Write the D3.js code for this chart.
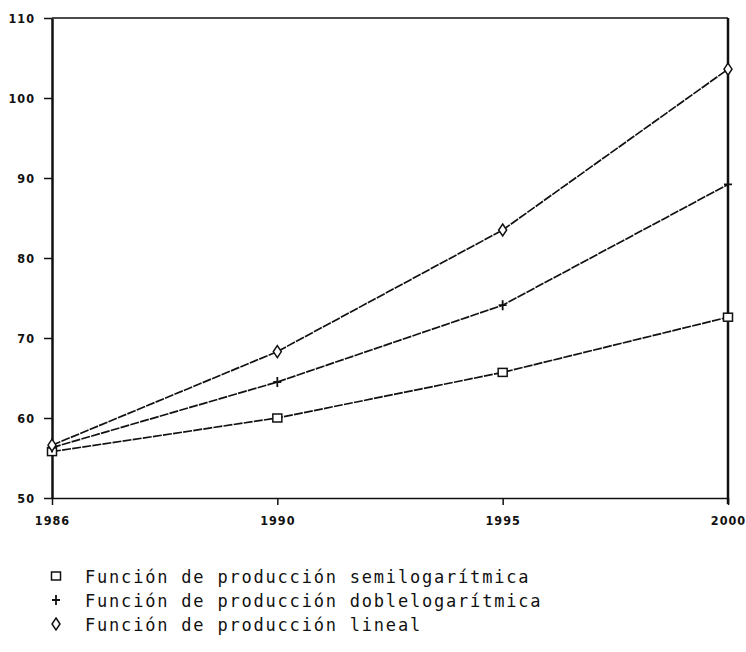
<!DOCTYPE html>
<html><head><meta charset="utf-8">
<script src="https://cdn.jsdelivr.net/npm/d3@7"></script>
<style>body{margin:0;background:#fff}svg{display:block}</style>
</head><body>
<script>
const years = ["1986", "1990", "1995", "2000"];
const yTicks = [50, 60, 70, 80, 90, 100, 110];
const semilog = [55.8, 60.0, 65.7, 72.6];
const doblelog = [56.3, 64.5, 74.1, 89.2];
const lineal = [56.6, 68.3, 83.5, 103.6];
const seriesNames = ["Función de producción semilogarítmica", "Función de producción doblelogarítmica", "Función de producción lineal"];
const seriesMarkers = ["square", "plus", "diamond"];

const W = 746, H = 652;
const m = {l: 52, r: 18, t: 18, b: 154};
const svg = d3.select("body").append("svg").attr("width", W).attr("height", H);

const x = d3.scalePoint().domain(years).range([m.l, W - m.r]);
const y = d3.scaleLinear().domain([50, 110]).range([H - m.b, m.t]);

const ink = "#111";
// frame
svg.append("line").attr("x1", m.l).attr("x2", W - m.r).attr("y1", m.t).attr("y2", m.t).attr("stroke", ink).attr("stroke-width", 1.5);
svg.append("line").attr("x1", W - m.r).attr("x2", W - m.r).attr("y1", m.t).attr("y2", H - m.b + 6).attr("stroke", ink).attr("stroke-width", 2.5);

const yAxis = svg.append("g").attr("transform", `translate(${m.l},0)`)
  .call(d3.axisLeft(y).tickValues(yTicks).tickSize(8).tickSizeOuter(0).tickPadding(9));
yAxis.select(".domain").attr("stroke", ink).attr("stroke-width", 2.5);
yAxis.selectAll(".tick line").attr("stroke", ink).attr("stroke-width", 1.5);
yAxis.selectAll("text").attr("fill", ink).style("font-family", "'DejaVu Sans Condensed','DejaVu Sans',sans-serif")
  .style("font-weight", "bold").style("font-size", "12.5px").style("letter-spacing", "1px");

const xAxis = svg.append("g").attr("transform", `translate(0,${H - m.b})`)
  .call(d3.axisBottom(x).tickSize(7).tickSizeOuter(0).tickPadding(11));
xAxis.select(".domain").attr("stroke", ink).attr("stroke-width", 1.5);
xAxis.selectAll(".tick line").attr("stroke", ink).attr("stroke-width", 1.5);
xAxis.selectAll("text").attr("fill", ink).style("font-family", "'DejaVu Sans Condensed','DejaVu Sans',sans-serif")
  .style("font-weight", "bold").style("font-size", "12.5px").style("letter-spacing", "1px");

const series = [semilog, doblelog, lineal];
const line = d3.line().x((d, i) => x(years[i])).y(d => y(d));

function marker(g, type, cx, cy) {
  if (type === "square") {
    g.append("rect").attr("x", cx - 4.5).attr("y", cy - 4).attr("width", 9).attr("height", 8)
      .attr("fill", "#fff").attr("stroke", ink).attr("stroke-width", 1.5);
  } else if (type === "plus") {
    g.append("path").attr("d", `M${cx - 4},${cy}H${cx + 4}M${cx},${cy - 5}V${cy + 5}`)
      .attr("stroke", ink).attr("stroke-width", 1.8).attr("fill", "none");
  } else {
    g.append("path").attr("d", `M${cx},${cy - 6}L${cx + 4},${cy}L${cx},${cy + 6}L${cx - 4},${cy}Z`)
      .attr("stroke", ink).attr("stroke-width", 1.5).attr("fill", "#fff");
  }
}

series.forEach((s, k) => {
  svg.append("path").datum(s).attr("d", line).attr("fill", "none")
    .attr("stroke", ink).attr("stroke-width", 1.7).attr("stroke-dasharray", "9,1.2");
});
series.forEach((s, k) => {
  const g = svg.append("g");
  s.forEach((v, i) => marker(g, seriesMarkers[k], x(years[i]), y(v)));
});

// legend
const lg = svg.append("g");
seriesNames.forEach((name, i) => {
  const cy = 578 + i * 24;
  marker(lg, seriesMarkers[i], 56, cy - 2);
  lg.append("text").attr("x", 85).attr("y", cy + 5).text(name)
    .attr("fill", ink).style("font-family", "'DejaVu Sans Mono',monospace")
    .style("font-size", "17px").style("letter-spacing", "1.8px");
});
</script>
</body></html>
